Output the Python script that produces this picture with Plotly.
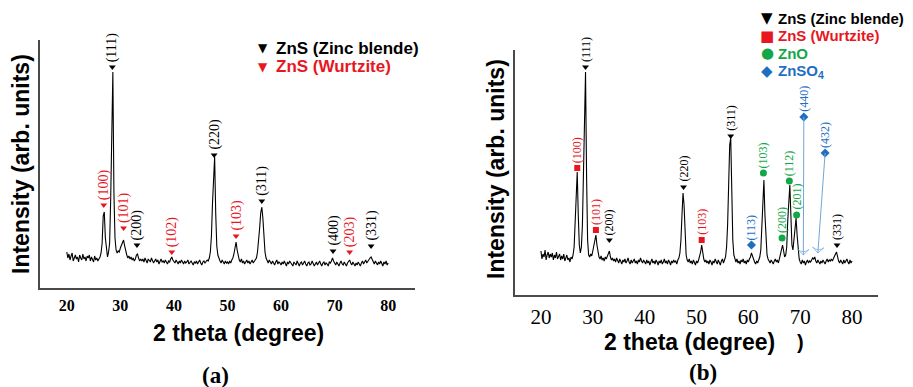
import numpy as np
import plotly.graph_objects as go

W, H = 913, 387
OFF = 8  # default page margin offset
FW, FH = W - OFF, H - OFF

# ---------------- data ----------------
two_theta = np.round(np.arange(20.0, 80.0001, 0.2), 1)

intensity_a = [
    36, 30, 34, 28, 32, 35, 27, 31, 33, 29,
    31, 26, 33, 30, 28, 34, 29, 31, 27, 32,
    30, 33, 27, 31, 29, 26, 32, 28, 30, 27,
    29, 31, 35, 45, 72, 76, 50, 36, 31, 36,
    45, 90, 185, 216, 95, 50, 38, 35, 37, 36,
    40, 43, 46, 48, 42, 36, 33, 30, 32, 29,
    31, 28, 30, 27, 29, 33, 34, 30, 27, 29,
    27, 29, 26, 30, 28, 25, 29, 27, 26, 30,
    28, 25, 27, 29, 26, 28, 24, 27, 29, 26,
    27, 25, 28, 26, 24, 27, 26, 29, 31, 28,
    27, 25, 28, 26, 24, 27, 25, 28, 26, 24,
    27, 25, 26, 28, 24, 26, 27, 25, 23, 26,
    25, 27, 24, 26, 28, 25, 23, 26, 27, 25,
    26, 28, 27, 30, 36, 52, 85, 120, 131, 75,
    42, 33, 29, 27, 25, 28, 26, 24, 27, 25,
    26, 24, 27, 25, 28, 30, 34, 40, 46, 38,
    31, 28, 26, 29, 25, 27, 24, 26, 28, 25,
    27, 24, 26, 28, 25, 27, 29, 30, 36, 46,
    60, 75, 81, 70, 48, 36, 30, 27, 25, 28,
    26, 24, 27, 25, 23, 26, 28, 24, 26, 25,
    23, 26, 24, 27, 25, 22, 26, 24, 27, 25,
    24, 22, 26, 25, 23, 27, 24, 22, 25, 26,
    23, 25, 27, 24, 22, 25, 26, 23, 24, 27,
    25, 22, 24, 26, 23, 25, 27, 24, 22, 25,
    26, 23, 25, 24, 22, 26, 25, 27, 30, 27,
    25, 23, 26, 24, 22, 25, 27, 24, 23, 26,
    24, 22, 25, 27, 28, 25, 23, 26, 24, 22,
    25, 23, 26, 24, 22, 25, 27, 24, 26, 28,
    25, 27, 28, 30, 31, 28, 26, 24, 27, 25,
    23, 26, 24, 27, 25, 22, 26, 24, 27, 23,
    25,
]

intensity_b = [
    44, 36, 41, 38, 45, 35, 40, 43, 37, 41,
    38, 42, 35, 40, 37, 43, 36, 39, 41, 35,
    39, 36, 41, 34, 38, 40, 35, 37, 33, 38,
    36, 40, 48, 75, 110, 123, 80, 50, 42, 48,
    70, 130, 200, 223, 120, 55, 40, 38, 41, 39,
    44, 50, 56, 60, 50, 42, 38, 36, 39, 35,
    37, 34, 38, 36, 39, 41, 44, 38, 35, 37,
    34, 36, 33, 37, 35, 32, 36, 34, 31, 35,
    33, 36, 32, 34, 37, 33, 31, 35, 32, 34,
    36, 32, 34, 31, 35, 33, 37, 34, 32, 35,
    33, 31, 35, 32, 34, 30, 33, 36, 32, 34,
    31, 35, 33, 30, 34, 32, 35, 31, 33, 36,
    32, 34, 31, 35, 33, 30, 34, 32, 35, 33,
    34, 31, 35, 37, 42, 55, 80, 102, 90, 55,
    40, 35, 33, 36, 32, 34, 31, 35, 33, 30,
    34, 32, 35, 38, 43, 50, 42, 36, 33, 35,
    32, 34, 31, 35, 33, 30, 34, 32, 36, 33,
    31, 35, 33, 30, 34, 36, 32, 35, 38, 48,
    70, 110, 150, 157, 95, 55, 40, 35, 33, 36,
    32, 34, 31, 35, 33, 36, 32, 34, 31, 35,
    33, 36, 38, 42, 38, 35, 33, 31, 34, 32,
    35, 38, 45, 70, 105, 115, 80, 50, 40, 36,
    34, 32, 35, 33, 31, 34, 36, 33, 35, 32,
    36, 40, 46, 50, 44, 38, 40, 48, 75, 100,
    110, 80, 50, 45, 55, 70, 77, 60, 42, 36,
    33, 31, 35, 32, 34, 30, 33, 35, 32, 34,
    33, 35, 37, 36, 38, 34, 32, 35, 33, 31,
    34, 32, 35, 33, 31, 34, 36, 33, 35, 34,
    36, 34, 37, 39, 41, 43, 38, 34, 32, 35,
    33, 31, 35, 32, 34, 36, 33, 31, 35, 32,
    34,
]

tick_values = [20, 30, 40, 50, 60, 70, 80]

# panel (a) peak markers
zb_a_pos = [28.5, 33.1, 47.5, 56.4, 69.7, 76.8]
zb_a_hkl = ["(111)", "(200)", "(220)", "(311)", "(400)", "(331)"]
zb_a_y = [221, 43, 133, 87, 37, 42]
wz_a_pos = [26.9, 30.6, 39.6, 51.6, 72.8]
wz_a_hkl = ["(100)", "(101)", "(102)", "(103)", "(203)"]
wz_a_y = [83, 60, 36, 52, 36]

# panel (b) peak markers
zb_b_pos = [28.6, 33.2, 47.5, 56.6, 77.1]
zb_b_hkl = ["(111)", "(200)", "(220)", "(311)", "(331)"]
zb_b_y = [228, 55, 108, 159, 50]
wz_b_pos = [27.0, 30.6, 51.0]
wz_b_hkl = ["(100)", "(101)", "(103)"]
wz_b_y = [127, 65, 55]
zno_b_pos = [62.9, 66.5, 67.9, 69.3]
zno_b_hkl = ["(103)", "(200)", "(112)", "(201)"]
zno_b_y = [122, 57, 114, 80]
znso4_b_pos = [60.6, 70.7, 74.8]
znso4_b_hkl = ["(113)", "(440)", "(432)"]
znso4_b_y = [50, 178, 142]
znso4_arrow_x = [None, 70.6, 73.4]
znso4_arrow_y = [None, 40, 42]

legend_a = ["ZnS (Zinc blende)", "ZnS (Wurtzite)"]
legend_b = ["ZnS (Zinc blende)", "ZnS (Wurtzite)", "ZnO", "ZnSO<sub>4</sub>"]

# ---------------- styles ----------------
BLACK = "#000000"
RED = "#e8161e"
GREEN = "#12a84a"
BLUE = "#1f6fc1"
ARROW = "#6fa7d8"
SERIF = "Liberation Serif, DejaVu Serif, Times New Roman, serif"
SANS = "Liberation Sans, Arial, sans-serif"


def pxx(x):
    return (x - OFF) / FW


def pxy(y):
    return 1 - (y - OFF) / FH


fig = go.Figure()

fig.add_trace(go.Scatter(x=two_theta, y=intensity_a, mode="lines",
                         line=dict(color="black", width=1.1),
                         xaxis="x", yaxis="y", showlegend=False, hoverinfo="skip"))
fig.add_trace(go.Scatter(x=two_theta, y=intensity_b, mode="lines",
                         line=dict(color="black", width=1.1),
                         xaxis="x2", yaxis="y2", showlegend=False, hoverinfo="skip"))

annotations = []


def add_peaks(pos, hkl, yv, color, symbol, size, xa, ya, fsize, shift):
    fig.add_trace(go.Scatter(x=pos, y=yv, mode="markers",
                             marker=dict(symbol=symbol, size=size, color=color,
                                         line=dict(width=0)),
                             xaxis=xa, yaxis=ya, showlegend=False,
                             cliponaxis=False, hoverinfo="skip"))
    for p, t, v in zip(pos, hkl, yv):
        annotations.append(dict(x=p, y=v, xref=xa, yref=ya, text=t,
                                textangle=-90, showarrow=False,
                                xanchor="center", yanchor="bottom",
                                yshift=shift,
                                font=dict(family=SERIF, size=fsize, color=color)))


add_peaks(zb_a_pos, zb_a_hkl, zb_a_y, BLACK, "triangle-down", 6, "x", "y", 14, 3)
add_peaks(wz_a_pos, wz_a_hkl, wz_a_y, RED, "triangle-down", 6, "x", "y", 14, 3)
add_peaks(zb_b_pos, zb_b_hkl, zb_b_y, BLACK, "triangle-down", 6, "x2", "y2", 12, 3)
add_peaks(wz_b_pos, wz_b_hkl, wz_b_y, RED, "square", 6, "x2", "y2", 12, 3)
add_peaks(zno_b_pos, zno_b_hkl, zno_b_y, GREEN, "circle", 7, "x2", "y2", 12, 3)
add_peaks(znso4_b_pos, znso4_b_hkl, znso4_b_y, BLUE, "diamond", 7, "x2", "y2", 12, 3)

# arrows from ZnSO4 markers to the weak reflections
for p, v, axp, ayv in zip(znso4_b_pos, znso4_b_y, znso4_arrow_x, znso4_arrow_y):
    if axp is None:
        continue
    fig.add_trace(go.Scatter(x=[p, axp], y=[v, ayv], mode="lines+markers",
                             line=dict(color=ARROW, width=1),
                             marker=dict(symbol=["circle", "arrow-wide-open"],
                                         size=[1, 8], angleref="previous",
                                         color=ARROW, line=dict(color=ARROW, width=1)),
                             xaxis="x2", yaxis="y2", showlegend=False,
                             cliponaxis=False, hoverinfo="skip"))

# legends
leg_a_sym = ["▼", "▼"]
leg_a_col = [BLACK, RED]
for i, (s, c, t) in enumerate(zip(leg_a_sym, leg_a_col, legend_a)):
    yy = 48 + i * 19
    annotations.append(dict(x=pxx(263), y=pxy(yy), xref="paper", yref="paper",
                            text=s, showarrow=False, xanchor="center", yanchor="middle",
                            font=dict(family="DejaVu Sans", size=12, color=c)))
    annotations.append(dict(x=pxx(274), y=pxy(yy), xref="paper", yref="paper",
                            text=t, showarrow=False, xanchor="left", yanchor="middle",
                            font=dict(family=SANS, size=17, color=c, weight="bold")))

leg_b_sym = ["▼", "■", "●", "◆"]
leg_b_col = [BLACK, RED, GREEN, BLUE]
for i, (s, c, t) in enumerate(zip(leg_b_sym, leg_b_col, legend_b)):
    yy = 18 + i * 17.7
    annotations.append(dict(x=pxx(767), y=pxy(yy), xref="paper", yref="paper",
                            text=s, showarrow=False, xanchor="center", yanchor="middle",
                            font=dict(family="DejaVu Sans", size=15, color=c)))
    annotations.append(dict(x=pxx(776), y=pxy(yy), xref="paper", yref="paper",
                            text=t, showarrow=False, xanchor="left", yanchor="middle",
                            font=dict(family=SANS, size=15, color=c, weight="bold")))

# axis titles
for (xc, yc) in [(21, 164), (496, 169)]:
    annotations.append(dict(x=pxx(xc), y=pxy(yc), xref="paper", yref="paper",
                            text="Intensity (arb. units)", textangle=-90, showarrow=False,
                            xanchor="center", yanchor="middle",
                            font=dict(family=SANS, size=23, color="black", weight="bold")))
for (xc, yc) in [(238, 333), (689, 342)]:
    annotations.append(dict(x=pxx(xc), y=pxy(yc), xref="paper", yref="paper",
                            text="2 theta (degree)", showarrow=False,
                            xanchor="center", yanchor="middle",
                            font=dict(family=SANS, size=23, color="black", weight="bold")))
annotations.append(dict(x=pxx(800), y=pxy(342), xref="paper", yref="paper",
                        text=")", showarrow=False, xanchor="center", yanchor="middle",
                        font=dict(family=SANS, size=20, color="black", weight="bold")))

# panel letters
for (t, xc, yc) in [("(a)", 215, 375), ("(b)", 703, 372)]:
    annotations.append(dict(x=pxx(xc), y=pxy(yc), xref="paper", yref="paper",
                            text=t, showarrow=False, xanchor="center", yanchor="middle",
                            font=dict(family=SERIF, size=23, color="black", weight="bold")))

axis_common = dict(showgrid=False, zeroline=False, showline=True,
                   linecolor="#4a4a4a", linewidth=1.5, ticks="")

fig.update_layout(
    width=FW, height=FH,
    margin=dict(l=0, r=0, t=0, b=0),
    paper_bgcolor="white", plot_bgcolor="white",
    showlegend=False,
    xaxis=dict(domain=[pxx(40), pxx(415)], range=[15, 85], anchor="y",
               tickvals=tick_values, ticklabelstandoff=2,
               tickfont=dict(family=SERIF, size=16, color="black", weight="bold"),
               **axis_common),
    yaxis=dict(domain=[pxy(288), pxy(40)], range=[0, 248], anchor="x",
               showticklabels=False, **axis_common),
    xaxis2=dict(domain=[pxx(515), pxx(878)], range=[15, 85], anchor="y2",
                tickvals=tick_values, ticklabelstandoff=2,
                tickfont=dict(family=SERIF, size=21, color="black"),
                **axis_common),
    yaxis2=dict(domain=[pxy(295), pxy(50)], range=[0, 245], anchor="x2",
                showticklabels=False, **axis_common),
    annotations=annotations,
)

fig.write_html("out.html")
